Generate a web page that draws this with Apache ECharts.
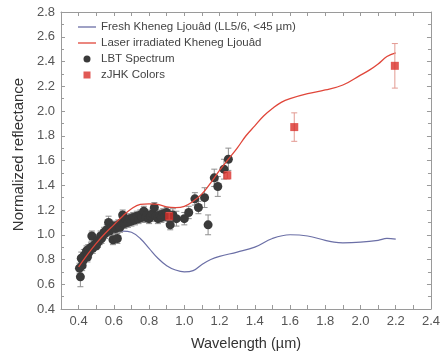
<!DOCTYPE html>
<html><head><meta charset="utf-8">
<script src="https://cdn.jsdelivr.net/npm/echarts@6/dist/echarts.min.js"></script>
<style>html,body{margin:0;padding:0;background:#fff}#c{width:443px;height:356px}</style>
</head><body><div id="c"></div>
<script>
// Fresh Kheneg Ljouâd (blue)
const freshX = [0.40,0.45,0.50,0.55,0.60,0.65,0.70,0.75,0.80,0.85,0.90,0.95,1.00,1.05,1.10,1.15,1.20,1.30,1.40,1.50,1.60,1.70,1.80,1.85,1.90,2.00,2.10,2.15,2.20];
const freshY = [0.76,0.85,0.93,0.99,1.02,1.03,1.02,0.97,0.89,0.81,0.75,0.715,0.70,0.71,0.76,0.80,0.825,0.86,0.90,0.97,1.00,0.99,0.955,0.94,0.935,0.94,0.955,0.97,0.965];
// Laser irradiated (red)
const laserX = [0.40,0.45,0.50,0.55,0.60,0.65,0.70,0.75,0.80,0.85,0.90,0.95,1.00,1.05,1.10,1.15,1.20,1.25,1.30,1.35,1.40,1.45,1.50,1.55,1.60,1.70,1.80,1.90,2.00,2.05,2.10,2.15,2.20];
const laserY = [0.74,0.84,0.93,1.01,1.08,1.15,1.21,1.245,1.25,1.245,1.225,1.22,1.23,1.27,1.33,1.42,1.52,1.61,1.70,1.80,1.88,1.96,2.02,2.07,2.10,2.14,2.17,2.21,2.29,2.33,2.38,2.44,2.47];
// LBT spectrum
const lbtX = [0.405,0.41,0.415,0.42,0.425,0.43,0.44,0.445,0.45,0.455,0.46,0.47,0.475,0.48,0.49,0.50,0.505,0.51,0.52,0.525,0.53,0.54,0.545,0.55,0.56,0.57,0.575,0.58,0.59,0.595,0.60,0.61,0.62,0.625,0.635,0.645,0.65,0.66,0.67,0.68,0.69,0.70,0.71,0.72,0.73,0.74,0.75,0.76,0.77,0.78,0.79,0.80,0.81,0.82,0.83,0.84,0.85,0.86,0.87,0.88,0.89,0.90,0.91,0.92,0.935,0.955,1.00,1.025,1.06,1.08,1.115,1.135,1.17,1.19,1.225,1.25];
const lbtY = [0.73,0.66,0.81,0.75,0.79,0.83,0.84,0.87,0.82,0.88,0.86,0.90,0.99,0.89,0.92,0.91,0.95,0.94,0.96,0.99,0.97,1.00,1.02,1.01,1.04,1.10,1.03,1.05,1.06,0.96,1.07,1.05,0.97,1.08,1.06,1.10,1.16,1.09,1.12,1.10,1.13,1.11,1.14,1.12,1.15,1.13,1.16,1.14,1.19,1.14,1.16,1.13,1.15,1.17,1.22,1.15,1.13,1.16,1.14,1.17,1.15,1.18,1.14,1.08,1.16,1.13,1.13,1.18,1.29,1.22,1.30,1.08,1.46,1.39,1.53,1.61];
const lbtErr = [0.04,0.08,0.05,0.04,0.04,0.05,0.04,0.04,0.04,0.04,0.04,0.04,0.04,0.04,0.04,0.03,0.04,0.04,0.04,0.04,0.04,0.04,0.04,0.04,0.04,0.05,0.04,0.04,0.04,0.04,0.04,0.04,0.04,0.04,0.04,0.04,0.04,0.04,0.04,0.04,0.04,0.04,0.04,0.04,0.04,0.04,0.04,0.04,0.04,0.04,0.04,0.04,0.04,0.04,0.04,0.04,0.04,0.04,0.04,0.04,0.04,0.04,0.05,0.04,0.05,0.06,0.05,0.05,0.05,0.05,0.08,0.08,0.07,0.08,0.08,0.09];
// zJHK colors
const zjhkX = [0.914,1.244,1.624,2.195];
const zjhkY = [1.15,1.48,1.87,2.365];
const zjhkErr = [0.03,0.03,0.115,0.18];
// axis ticks
const xMin = 0.3, xMax = 2.4, yMin = 0.4, yMax = 2.8;

const zip = (a,b)=>a.map((v,i)=>[v,b[i]]);
const errData = (xs,ys,es)=>xs.map((x,i)=>[x, ys[i]-es[i], ys[i]+es[i]]);

function errRender(color){
  return function(params, api){
    const x = api.value(0), lo = api.value(1), hi = api.value(2);
    const p1 = api.coord([x, hi]), p2 = api.coord([x, lo]);
    const c = 3;
    const st = {stroke: color, lineWidth: 1};
    return {type:'group', children:[
      {type:'line', shape:{x1:p1[0],y1:p1[1],x2:p2[0],y2:p2[1]}, style:st},
      {type:'line', shape:{x1:p1[0]-c,y1:p1[1],x2:p1[0]+c,y2:p1[1]}, style:st},
      {type:'line', shape:{x1:p2[0]-c,y1:p2[1],x2:p2[0]+c,y2:p2[1]}, style:st}
    ]};
  };
}

const font = 'Liberation Sans';
const axisLineStyle = {show:true, lineStyle:{color:'#9a9a9a', width:1}};
const tick = {show:true, inside:true, length:4, lineStyle:{color:'#9a9a9a'}};
const lineIcon = 'path://M0,0H18V1.3H0Z';
const chart = echarts.init(document.getElementById('c'));
chart.setOption({
  animation:false,
  textStyle:{fontFamily:font},
  grid:{left:61, right:6, top:12, bottom:45},
  legend:{
    orient:'vertical', left:73, top:16, itemGap:4, itemWidth:18, itemHeight:7, symbolKeepAspect:true,
    textStyle:{fontFamily:font, fontSize:11.5, color:'#444'},
    data:[
      {name:'Fresh Kheneg Ljouâd (LL5/6, <45 µm)', icon:lineIcon},
      {name:'Laser irradiated Kheneg Ljouâd', icon:lineIcon},
      {name:'LBT Spectrum', icon:'circle'},
      {name:'zJHK Colors', icon:'path://M0,0H10V10H0Z'}
    ]
  },
  xAxis:[{
    type:'value', min:xMin, max:xMax, interval:0.1,
    name:'Wavelength (µm)', nameLocation:'middle', nameGap:27,
    nameTextStyle:{fontFamily:font, fontSize:14.5, color:'#333'},
    axisLine:axisLineStyle, axisTick:tick, splitLine:{show:false},
    axisLabel:{fontFamily:font, fontSize:13, color:'#555', margin:6, showMaxLabel:true,
      formatter:function(v){const t=Math.round(v*10); return (t%2===0 && t>=4)? (t/10).toFixed(1) : '';}}
  },{
    type:'value', position:'top', min:xMin, max:xMax, interval:0.1,
    axisLine:axisLineStyle, axisTick:tick, axisLabel:{show:false}, splitLine:{show:false}
  }],
  yAxis:[{
    type:'value', min:yMin, max:yMax, interval:0.2,
    name:'Normalized reflectance', nameLocation:'middle', nameGap:34,
    nameTextStyle:{fontFamily:font, fontSize:15, color:'#333', padding:[0,0,0,12]},
    axisLine:axisLineStyle, axisTick:tick, splitLine:{show:false},
    minorTick:{show:true, splitNumber:2, length:3, lineStyle:{color:'#9a9a9a'}},
    axisLabel:{fontFamily:font, fontSize:13, color:'#555', margin:6, formatter:v=>v.toFixed(1)}
  },{
    type:'value', position:'right', min:yMin, max:yMax, interval:0.2,
    axisLine:axisLineStyle, axisTick:tick, axisLabel:{show:false}, splitLine:{show:false},
    minorTick:{show:true, splitNumber:2, length:3, lineStyle:{color:'#9a9a9a'}}
  }],
  series:[
    {name:'Fresh Kheneg Ljouâd (LL5/6, <45 µm)', type:'line', data:zip(freshX,freshY), smooth:0.4,
     symbol:'none', lineStyle:{color:'#6b6fa6', width:1.2}, itemStyle:{color:'#6b6fa6'}, z:1},
    {name:'lbtErr', type:'custom', renderItem:errRender('#8f8f8f'), data:errData(lbtX,lbtY,lbtErr),
     encode:{x:0, y:[1,2]}, z:2},
    {name:'LBT Spectrum', type:'scatter', data:zip(lbtX,lbtY), symbol:'circle', symbolSize:9,
     itemStyle:{color:'#3a3a3a', opacity:1}, z:3},
    {name:'Laser irradiated Kheneg Ljouâd', type:'line', data:zip(laserX,laserY), smooth:0.4,
     symbol:'none', lineStyle:{color:'#e0463a', width:1.3}, itemStyle:{color:'#e0463a'}, z:4},
    {name:'zjhkErr', type:'custom', renderItem:errRender('#e39a92'), data:errData(zjhkX,zjhkY,zjhkErr),
     encode:{x:0, y:[1,2]}, z:5},
    {name:'zJHK Colors', type:'scatter', data:zip(zjhkX,zjhkY), symbol:'rect', symbolSize:8,
     itemStyle:{color:'#d9302a'}, z:6}
  ]
});
</script></body></html>
